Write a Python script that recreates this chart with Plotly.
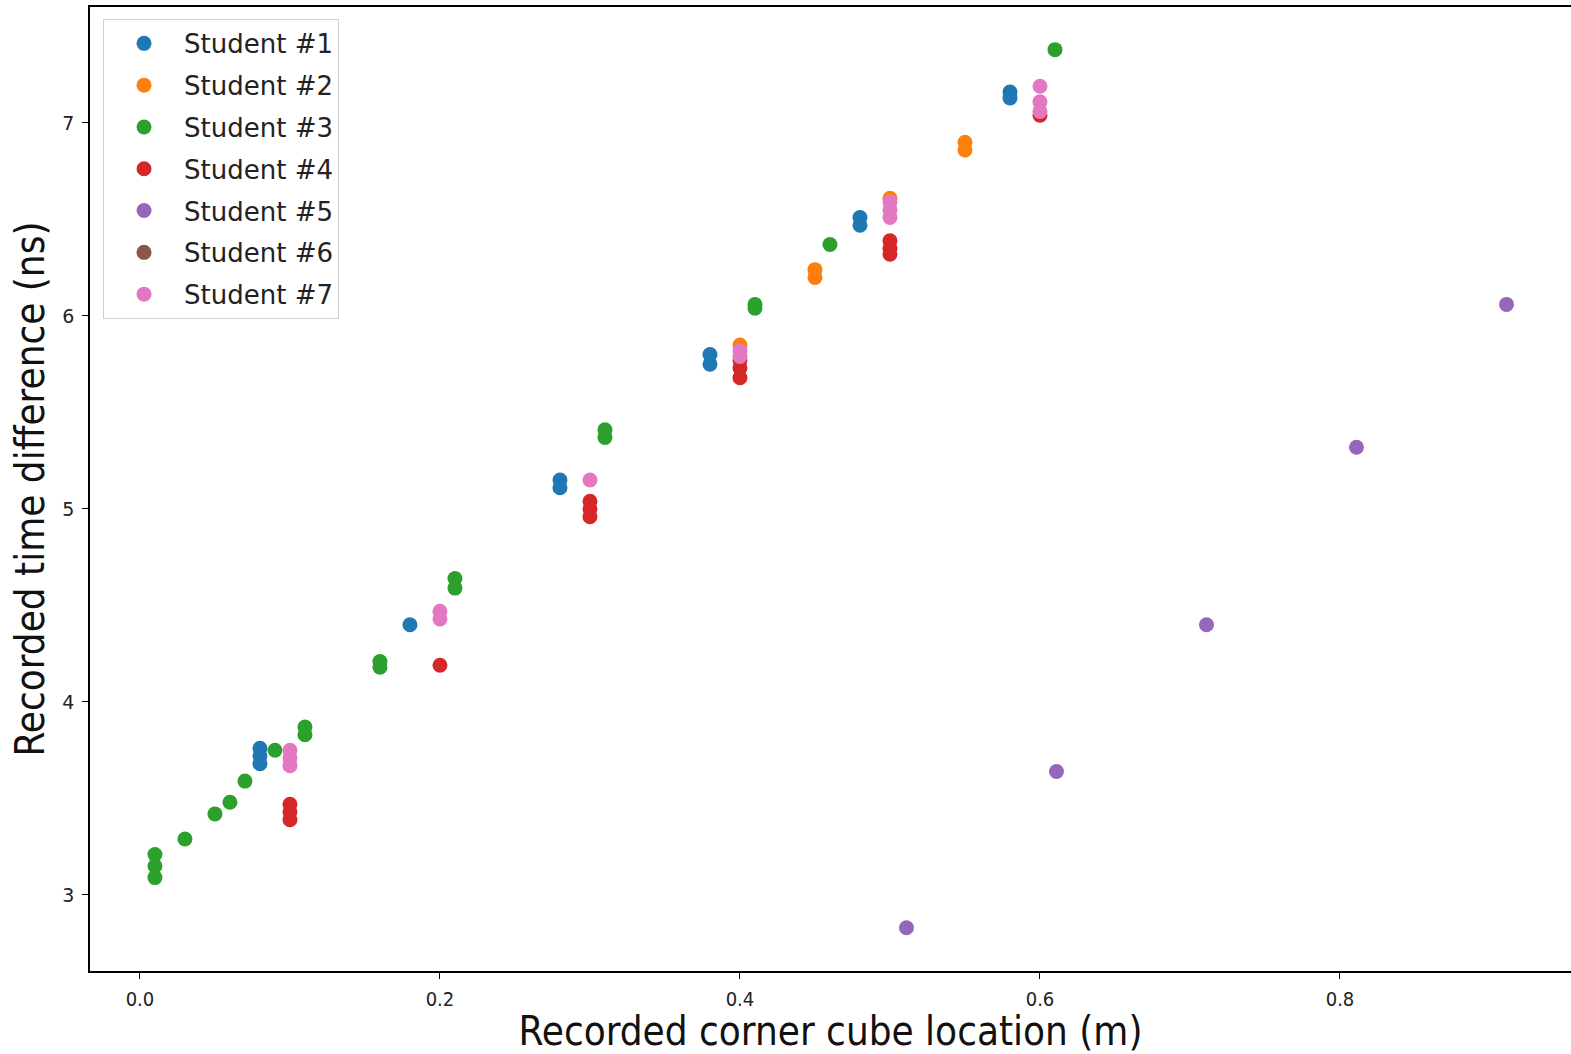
import plotly.graph_objects as go

# ---- data ----
names = ["Student #1", "Student #2", "Student #3", "Student #4",
         "Student #5", "Student #6", "Student #7"]
colors = ["#1f77b4", "#ff7f0e", "#2ca02c", "#d62728",
          "#9467bd", "#8c564b", "#e377c2"]

s1_x = [0.08, 0.08, 0.08, 0.18, 0.28, 0.28, 0.38, 0.38, 0.48, 0.48, 0.58, 0.58]
s1_y = [3.76, 3.72, 3.68, 4.40, 5.15, 5.11, 5.80, 5.75, 6.51, 6.47, 7.16, 7.13]

s2_x = [0.40, 0.45, 0.45, 0.50, 0.55, 0.55]
s2_y = [5.85, 6.24, 6.20, 6.61, 6.90, 6.86]

s3_x = [0.01, 0.01, 0.01, 0.03, 0.05, 0.06, 0.07, 0.09, 0.11, 0.11,
        0.16, 0.16, 0.21, 0.21, 0.31, 0.31, 0.41, 0.41, 0.46, 0.61]
s3_y = [3.21, 3.15, 3.09, 3.29, 3.42, 3.48, 3.59, 3.75, 3.87, 3.83,
        4.21, 4.18, 4.64, 4.59, 5.41, 5.37, 6.06, 6.04, 6.37, 7.38]

s4_x = [0.10, 0.10, 0.10, 0.20, 0.30, 0.30, 0.30, 0.40, 0.40, 0.40,
        0.50, 0.50, 0.50, 0.60]
s4_y = [3.47, 3.43, 3.39, 4.19, 5.04, 5.00, 4.96, 5.77, 5.73, 5.68,
        6.39, 6.35, 6.32, 7.04]

s5_x = [0.511, 0.611, 0.711, 0.811, 0.911]
s5_y = [2.83, 3.64, 4.40, 5.32, 6.06]

# Student #6 has no visible points in the reference
s6_x = [None]
s6_y = [None]

s7_x = [0.10, 0.10, 0.10, 0.20, 0.20, 0.30, 0.40, 0.40,
        0.50, 0.50, 0.50, 0.60, 0.60, 0.60]
s7_y = [3.75, 3.71, 3.67, 4.47, 4.43, 5.15, 5.82, 5.79,
        6.59, 6.55, 6.51, 7.19, 7.11, 7.06]

xs = [s1_x, s2_x, s3_x, s4_x, s5_x, s6_x, s7_x]
ys = [s1_y, s2_y, s3_y, s4_y, s5_y, s6_y, s7_y]

x_ticks = [0.0, 0.2, 0.4, 0.6, 0.8]
x_ticktext = ["0.0", "0.2", "0.4", "0.6", "0.8"]
y_ticks = [3, 4, 5, 6, 7]

fig = go.Figure()
for i in range(len(names)):
    fig.add_trace(go.Scatter(
        x=xs[i], y=ys[i], mode="markers", name=names[i],
        legendgroup=names[i], showlegend=True,
        marker=dict(color=colors[i], size=15, line=dict(width=0)),
    ))

title_font = dict(family="DejaVu Sans Condensed, Liberation Sans Narrow, DejaVu Sans",
                  size=40, color="#111111")
xtick_font = dict(family="DejaVu Sans Condensed, DejaVu Sans", size=20, color="#222222")
ytick_font = dict(family="DejaVu Sans", size=19, color="#222222")

fig.update_layout(
    width=1571, height=1054,
    margin=dict(l=90, r=0, t=7, b=83),
    paper_bgcolor="white", plot_bgcolor="white",
    showlegend=True,
    legend=dict(
        x=0.0088, y=0.9876, xanchor="left", yanchor="top",
        bgcolor="white", bordercolor="#d0d0d0", borderwidth=1,
        font=dict(family="DejaVu Sans", size=26, color="#222222"),
        itemwidth=70, tracegroupgap=5,
    ),
    xaxis=dict(
        range=[-0.0333, 0.9540], tickvals=x_ticks, ticktext=x_ticktext,
        showgrid=False, zeroline=False, automargin=False,
        showline=True, linecolor="black", linewidth=1.5, mirror=True,
        ticks="outside", ticklen=6, tickcolor="black", tickwidth=1,
        tickfont=xtick_font, ticklabelstandoff=3,
        title=dict(text="Recorded corner cube location (m)", font=title_font, standoff=17),
    ),
    yaxis=dict(
        range=[2.606, 7.601], tickvals=y_ticks,
        showgrid=False, zeroline=False, automargin=False,
        showline=True, linecolor="black", linewidth=1.5, mirror=False,
        ticks="outside", ticklen=6, tickcolor="black", tickwidth=1,
        tickfont=ytick_font, ticklabelstandoff=4,
        title=dict(text="Recorded time difference (ns)", font=title_font, standoff=5),
    ),
)

fig.write_html("out.html")
